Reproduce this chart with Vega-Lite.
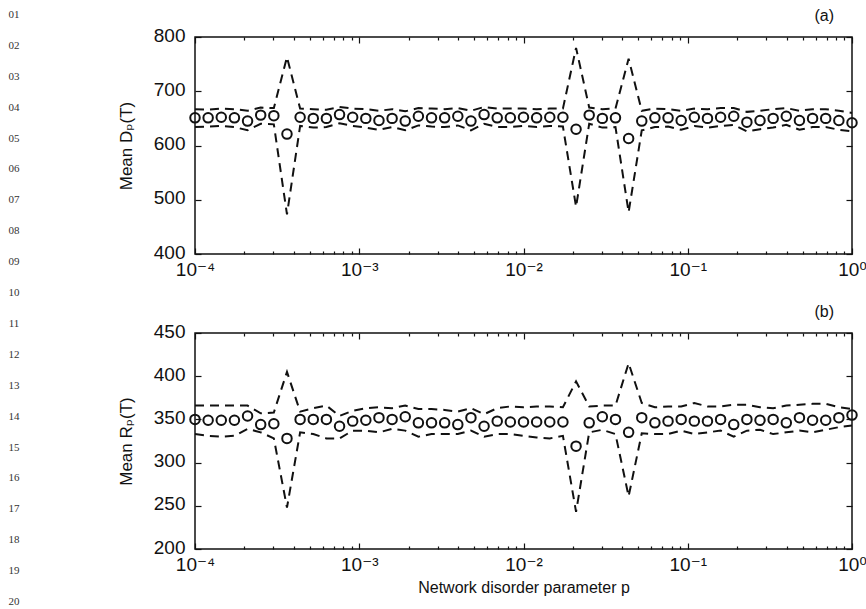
{
  "$schema": "https://vega.github.io/schema/vega-lite/v6.json",
  "background": "white",
  "padding": {"left": 0, "top": 7, "right": 4, "bottom": 0},
  "datasets": {
    "nums": [{"k":1,"t":"01"},{"k":2,"t":"02"},{"k":3,"t":"03"},{"k":4,"t":"04"},{"k":5,"t":"05"},{"k":6,"t":"06"},{"k":7,"t":"07"},{"k":8,"t":"08"},{"k":9,"t":"09"},{"k":10,"t":"10"},{"k":11,"t":"11"},{"k":12,"t":"12"},{"k":13,"t":"13"},{"k":14,"t":"14"},{"k":15,"t":"15"},{"k":16,"t":"16"},{"k":17,"t":"17"},{"k":18,"t":"18"},{"k":19,"t":"19"},{"k":20,"t":"20"}],
    "a": [
      {"p":0.0001,"m":651,"hi":667,"lo":634},{"p":0.00012023,"m":651,"hi":666,"lo":635},{"p":0.00014454,"m":652,"hi":668,"lo":636},{"p":0.00017378,"m":651,"hi":667,"lo":634},{"p":0.00020893,"m":645,"hi":664,"lo":628},{"p":0.00025119,"m":656,"hi":670,"lo":640},{"p":0.000302,"m":655,"hi":669,"lo":639},{"p":0.00036308,"m":621,"hi":763,"lo":473},{"p":0.00043652,"m":652,"hi":668,"lo":636},{"p":0.00052481,"m":650,"hi":667,"lo":633},{"p":0.00063096,"m":650,"hi":666,"lo":634},{"p":0.00075858,"m":657,"hi":671,"lo":641},{"p":0.00091201,"m":652,"hi":668,"lo":636},{"p":0.0010965,"m":650,"hi":667,"lo":633},{"p":0.0013183,"m":646,"hi":664,"lo":629},{"p":0.0015849,"m":650,"hi":667,"lo":634},{"p":0.0019055,"m":645,"hi":663,"lo":628},{"p":0.0022909,"m":654,"hi":669,"lo":637},{"p":0.0027542,"m":651,"hi":668,"lo":635},{"p":0.0033113,"m":651,"hi":667,"lo":634},{"p":0.0039811,"m":654,"hi":669,"lo":637},{"p":0.0047863,"m":645,"hi":664,"lo":628},{"p":0.0057544,"m":657,"hi":671,"lo":640},{"p":0.0069183,"m":651,"hi":668,"lo":634},{"p":0.0083176,"m":651,"hi":668,"lo":634},{"p":0.01,"m":652,"hi":668,"lo":636},{"p":0.012023,"m":651,"hi":667,"lo":634},{"p":0.014454,"m":652,"hi":668,"lo":636},{"p":0.017378,"m":652,"hi":668,"lo":635},{"p":0.020893,"m":630,"hi":780,"lo":487},{"p":0.025119,"m":656,"hi":670,"lo":640},{"p":0.0302,"m":650,"hi":667,"lo":633},{"p":0.036308,"m":651,"hi":668,"lo":634},{"p":0.043652,"m":613,"hi":760,"lo":477},{"p":0.052481,"m":645,"hi":664,"lo":628},{"p":0.063096,"m":651,"hi":668,"lo":634},{"p":0.075858,"m":651,"hi":667,"lo":635},{"p":0.091201,"m":646,"hi":664,"lo":629},{"p":0.10965,"m":652,"hi":668,"lo":636},{"p":0.13183,"m":650,"hi":667,"lo":633},{"p":0.15849,"m":652,"hi":669,"lo":636},{"p":0.19055,"m":654,"hi":669,"lo":638},{"p":0.22909,"m":643,"hi":662,"lo":626},{"p":0.27542,"m":646,"hi":664,"lo":630},{"p":0.33113,"m":650,"hi":667,"lo":633},{"p":0.39811,"m":654,"hi":669,"lo":638},{"p":0.47863,"m":646,"hi":664,"lo":629},{"p":0.57544,"m":650,"hi":667,"lo":634},{"p":0.69183,"m":650,"hi":667,"lo":634},{"p":0.83176,"m":646,"hi":664,"lo":629},{"p":1,"m":642,"hi":660,"lo":626}
    ],
    "b": [
      {"p":0.0001,"m":350,"hi":366,"lo":333},{"p":0.00012023,"m":349,"hi":366,"lo":331},{"p":0.00014454,"m":349,"hi":366,"lo":330},{"p":0.00017378,"m":349,"hi":366,"lo":331},{"p":0.00020893,"m":354,"hi":366,"lo":339},{"p":0.00025119,"m":344,"hi":357,"lo":335},{"p":0.000302,"m":345,"hi":358,"lo":328},{"p":0.00036308,"m":328,"hi":405,"lo":248},{"p":0.00043652,"m":350,"hi":359,"lo":335},{"p":0.00052481,"m":350,"hi":363,"lo":333},{"p":0.00063096,"m":350,"hi":366,"lo":328},{"p":0.00075858,"m":342,"hi":354,"lo":328},{"p":0.00091201,"m":348,"hi":360,"lo":337},{"p":0.0010965,"m":349,"hi":363,"lo":337},{"p":0.0013183,"m":352,"hi":364,"lo":335},{"p":0.0015849,"m":350,"hi":363,"lo":339},{"p":0.0019055,"m":353,"hi":366,"lo":337},{"p":0.0022909,"m":346,"hi":362,"lo":330},{"p":0.0027542,"m":346,"hi":362,"lo":333},{"p":0.0033113,"m":346,"hi":361,"lo":333},{"p":0.0039811,"m":344,"hi":359,"lo":333},{"p":0.0047863,"m":352,"hi":363,"lo":337},{"p":0.0057544,"m":342,"hi":356,"lo":330},{"p":0.0069183,"m":348,"hi":363,"lo":333},{"p":0.0083176,"m":347,"hi":365,"lo":333},{"p":0.01,"m":347,"hi":364,"lo":331},{"p":0.012023,"m":347,"hi":365,"lo":329},{"p":0.014454,"m":347,"hi":365,"lo":328},{"p":0.017378,"m":347,"hi":364,"lo":331},{"p":0.020893,"m":319,"hi":394,"lo":243},{"p":0.025119,"m":346,"hi":365,"lo":335},{"p":0.0302,"m":353,"hi":366,"lo":338},{"p":0.036308,"m":350,"hi":366,"lo":333},{"p":0.043652,"m":335,"hi":415,"lo":261},{"p":0.052481,"m":352,"hi":369,"lo":334},{"p":0.063096,"m":346,"hi":364,"lo":333},{"p":0.075858,"m":348,"hi":365,"lo":333},{"p":0.091201,"m":350,"hi":365,"lo":337},{"p":0.10965,"m":348,"hi":369,"lo":333},{"p":0.13183,"m":348,"hi":365,"lo":335},{"p":0.15849,"m":350,"hi":365,"lo":337},{"p":0.19055,"m":344,"hi":367,"lo":330},{"p":0.22909,"m":350,"hi":367,"lo":337},{"p":0.27542,"m":349,"hi":364,"lo":338},{"p":0.33113,"m":350,"hi":363,"lo":333},{"p":0.39811,"m":346,"hi":366,"lo":335},{"p":0.47863,"m":352,"hi":367,"lo":337},{"p":0.57544,"m":349,"hi":368,"lo":335},{"p":0.69183,"m":349,"hi":368,"lo":338},{"p":0.83176,"m":352,"hi":364,"lo":341},{"p":1,"m":355,"hi":362,"lo":343}
    ]
  },
  "hconcat": [
    {
      "data": {"name": "nums"},
      "width": 28,
      "height": 565,
      "view": {"stroke": null},
      "mark": {"type": "text", "font": "Liberation Serif", "fontSize": 11, "color": "#333", "baseline": "middle", "align": "center"},
      "encoding": {
        "y": {"field": "k", "type": "quantitative", "scale": {"domain": [1.712, 20], "reverse": true, "nice": false, "zero": false}, "axis": null},
        "text": {"field": "t"}
      }
    },
    {
      "vconcat": [
        {
          "data": {"name": "a"},
          "width": 657,
          "height": 217,
          "title": {"text": "(a)", "anchor": "end", "frame": "group", "fontSize": 16, "fontWeight": "normal", "font": "Liberation Sans", "color": "#111", "offset": 2, "dx": -18},
          "layer": [
            {
              "mark": {"type": "line", "strokeDash": [9, 6], "strokeWidth": 2, "color": "#111"},
              "encoding": {
                "x": {"field": "p", "type": "quantitative", "scale": {"type": "log", "domain": [0.0001, 1], "nice": false},
                      "axis": {"orient": "bottom", "values": [0.0001, 0.001, 0.01, 0.1, 1], "ticks": false, "domain": false, "labelPadding": 6, "labelFlush": false, "labelOverlap": false, "title": null,
                               "labelExpr": "datum.value < 0.0005 ? '10⁻⁴' : datum.value < 0.005 ? '10⁻³' : datum.value < 0.05 ? '10⁻²' : datum.value < 0.5 ? '10⁻¹' : '10⁰'"}},
                "y": {"field": "hi", "type": "quantitative", "scale": {"domain": [400, 800], "nice": false, "zero": false},
                      "axis": {"orient": "left", "values": [400, 500, 600, 700, 800], "ticks": false, "domain": false, "labelPadding": 10, "labelOffset": -2, "title": "Mean Dₚ(T)", "titlePadding": 18}}
              }
            },
            {
              "mark": {"type": "line", "strokeDash": [9, 6], "strokeWidth": 2, "color": "#111"},
              "encoding": {
                "x": {"field": "p", "type": "quantitative", "scale": {"type": "log", "domain": [0.0001, 1], "nice": false},
                      "axis": {"orient": "bottom", "values": [0.0001, 0.001, 0.01, 0.1, 1], "tickSize": -6, "labels": false, "domain": false, "title": null}},
                "y": {"field": "lo", "type": "quantitative", "scale": {"domain": [400, 800], "nice": false, "zero": false},
                      "axis": {"orient": "left", "values": [400, 500, 600, 700, 800], "tickSize": -6, "labels": false, "domain": false, "title": null}}
              }
            },
            {
              "mark": {"type": "point", "shape": "circle", "filled": false, "size": 90, "strokeWidth": 2, "color": "#111", "opacity": 1},
              "encoding": {
                "x": {"field": "p", "type": "quantitative", "scale": {"type": "log", "domain": [0.0001, 1], "nice": false},
                      "axis": {"orient": "top", "values": [0.0001, 0.001, 0.01, 0.1, 1], "tickSize": -6, "labels": false, "domain": false, "title": null}},
                "y": {"field": "m", "type": "quantitative", "scale": {"domain": [400, 800], "nice": false, "zero": false},
                      "axis": {"orient": "right", "values": [400, 500, 600, 700, 800], "tickSize": -6, "labels": false, "domain": false, "title": null}}
              }
            },
            {
              "mark": {"type": "point", "opacity": 0},
              "encoding": {
                "x": {"field": "p", "type": "quantitative", "scale": {"type": "log", "domain": [0.0001, 1], "nice": false},
                      "axis": {"orient": "bottom", "values": [0.0002,0.0003,0.0004,0.0005,0.0006,0.0007,0.0008,0.0009,0.002,0.003,0.004,0.005,0.006,0.007,0.008,0.009,0.02,0.03,0.04,0.05,0.06,0.07,0.08,0.09,0.2,0.3,0.4,0.5,0.6,0.7,0.8,0.9], "tickSize": -3, "labels": false, "domain": false, "title": null}},
                "y": {"field": "m", "type": "quantitative", "scale": {"domain": [400, 800], "nice": false, "zero": false}, "axis": null}
              }
            },
            {
              "mark": {"type": "point", "opacity": 0},
              "encoding": {
                "x": {"field": "p", "type": "quantitative", "scale": {"type": "log", "domain": [0.0001, 1], "nice": false},
                      "axis": {"orient": "top", "values": [0.0002,0.0003,0.0004,0.0005,0.0006,0.0007,0.0008,0.0009,0.002,0.003,0.004,0.005,0.006,0.007,0.008,0.009,0.02,0.03,0.04,0.05,0.06,0.07,0.08,0.09,0.2,0.3,0.4,0.5,0.6,0.7,0.8,0.9], "tickSize": -3, "labels": false, "domain": false, "title": null}},
                "y": {"field": "m", "type": "quantitative", "scale": {"domain": [400, 800], "nice": false, "zero": false}, "axis": null}
              }
            }
          ],
          "resolve": {"axis": {"x": "independent", "y": "independent"}}
        },
        {
          "data": {"name": "b"},
          "width": 657,
          "height": 216,
          "title": {"text": "(b)", "anchor": "end", "frame": "group", "fontSize": 16, "fontWeight": "normal", "font": "Liberation Sans", "color": "#111", "offset": 2, "dx": -18},
          "layer": [
            {
              "mark": {"type": "line", "strokeDash": [9, 6], "strokeWidth": 2, "color": "#111"},
              "encoding": {
                "x": {"field": "p", "type": "quantitative", "scale": {"type": "log", "domain": [0.0001, 1], "nice": false},
                      "axis": {"orient": "bottom", "values": [0.0001, 0.001, 0.01, 0.1, 1], "ticks": false, "domain": false, "labelPadding": 6, "labelFlush": false, "labelOverlap": false, "title": "Network disorder parameter p", "titleFontSize": 16, "titlePadding": 5,
                               "labelExpr": "datum.value < 0.0005 ? '10⁻⁴' : datum.value < 0.005 ? '10⁻³' : datum.value < 0.05 ? '10⁻²' : datum.value < 0.5 ? '10⁻¹' : '10⁰'"}},
                "y": {"field": "hi", "type": "quantitative", "scale": {"domain": [200, 450], "nice": false, "zero": false},
                      "axis": {"orient": "left", "values": [200, 250, 300, 350, 400, 450], "ticks": false, "domain": false, "labelPadding": 10, "labelOffset": -2, "title": "Mean Rₚ(T)", "titlePadding": 18}}
              }
            },
            {
              "mark": {"type": "line", "strokeDash": [9, 6], "strokeWidth": 2, "color": "#111"},
              "encoding": {
                "x": {"field": "p", "type": "quantitative", "scale": {"type": "log", "domain": [0.0001, 1], "nice": false},
                      "axis": {"orient": "bottom", "values": [0.0001, 0.001, 0.01, 0.1, 1], "tickSize": -6, "labels": false, "domain": false, "title": null}},
                "y": {"field": "lo", "type": "quantitative", "scale": {"domain": [200, 450], "nice": false, "zero": false},
                      "axis": {"orient": "left", "values": [200, 250, 300, 350, 400, 450], "tickSize": -6, "labels": false, "domain": false, "title": null}}
              }
            },
            {
              "mark": {"type": "point", "shape": "circle", "filled": false, "size": 90, "strokeWidth": 2, "color": "#111", "opacity": 1},
              "encoding": {
                "x": {"field": "p", "type": "quantitative", "scale": {"type": "log", "domain": [0.0001, 1], "nice": false},
                      "axis": {"orient": "top", "values": [0.0001, 0.001, 0.01, 0.1, 1], "tickSize": -6, "labels": false, "domain": false, "title": null}},
                "y": {"field": "m", "type": "quantitative", "scale": {"domain": [200, 450], "nice": false, "zero": false},
                      "axis": {"orient": "right", "values": [200, 250, 300, 350, 400, 450], "tickSize": -6, "labels": false, "domain": false, "title": null}}
              }
            },
            {
              "mark": {"type": "point", "opacity": 0},
              "encoding": {
                "x": {"field": "p", "type": "quantitative", "scale": {"type": "log", "domain": [0.0001, 1], "nice": false},
                      "axis": {"orient": "bottom", "values": [0.0002,0.0003,0.0004,0.0005,0.0006,0.0007,0.0008,0.0009,0.002,0.003,0.004,0.005,0.006,0.007,0.008,0.009,0.02,0.03,0.04,0.05,0.06,0.07,0.08,0.09,0.2,0.3,0.4,0.5,0.6,0.7,0.8,0.9], "tickSize": -3, "labels": false, "domain": false, "title": null}},
                "y": {"field": "m", "type": "quantitative", "scale": {"domain": [200, 450], "nice": false, "zero": false}, "axis": null}
              }
            },
            {
              "mark": {"type": "point", "opacity": 0},
              "encoding": {
                "x": {"field": "p", "type": "quantitative", "scale": {"type": "log", "domain": [0.0001, 1], "nice": false},
                      "axis": {"orient": "top", "values": [0.0002,0.0003,0.0004,0.0005,0.0006,0.0007,0.0008,0.0009,0.002,0.003,0.004,0.005,0.006,0.007,0.008,0.009,0.02,0.03,0.04,0.05,0.06,0.07,0.08,0.09,0.2,0.3,0.4,0.5,0.6,0.7,0.8,0.9], "tickSize": -3, "labels": false, "domain": false, "title": null}},
                "y": {"field": "m", "type": "quantitative", "scale": {"domain": [200, 450], "nice": false, "zero": false}, "axis": null}
              }
            }
          ],
          "resolve": {"axis": {"x": "independent", "y": "independent"}}
        }
      ],
      "spacing": 23
    }
  ],
  "spacing": 88,
  "config": {
    "view": {"stroke": "#111", "strokeWidth": 1.5},
    "axis": {"grid": false, "labelFont": "Liberation Sans, DejaVu Sans", "titleFont": "Liberation Sans, DejaVu Sans", "labelFontSize": 19, "titleFontSize": 17, "titleFontWeight": "normal", "labelColor": "#111", "titleColor": "#111", "tickColor": "#111", "tickWidth": 1.2}
  }
}
